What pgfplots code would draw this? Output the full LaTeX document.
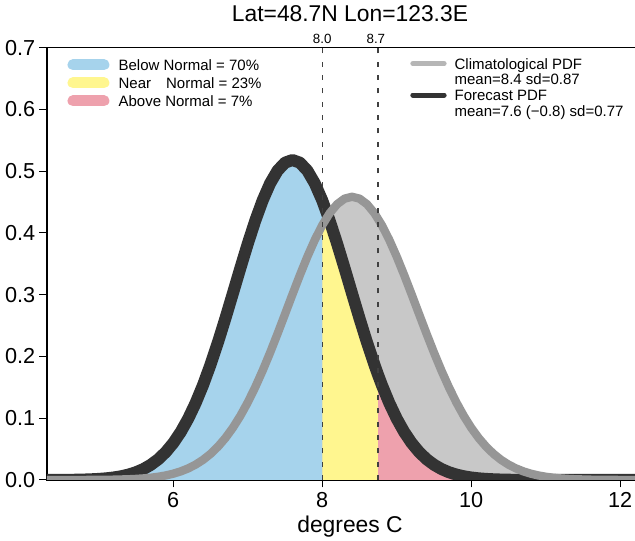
\documentclass[border=0pt]{standalone}
\usepackage{pgfplots}
\pgfplotsset{compat=1.18}
\usepackage{pgfplotstable}
\usepackage{fontspec}
\setmainfont{Liberation Sans}

\definecolor{belowc}{RGB}{166,211,236}
\definecolor{nearc}{RGB}{255,246,143}
\definecolor{abovec}{RGB}{238,161,173}
\definecolor{climfill}{RGB}{200,200,200}
\definecolor{climline}{RGB}{150,150,150}
\definecolor{fcline}{RGB}{51,51,51}

% Forecast PDF (mean 7.6, sd 0.77)
\pgfplotstableread{
x y
4.30 0.00000
4.50 0.00016
4.60 0.00026
4.70 0.00043
4.80 0.00070
4.90 0.00111
5.00 0.00173
5.10 0.00266
5.20 0.00403
5.30 0.00598
5.40 0.00875
5.50 0.01257
5.60 0.01776
5.70 0.02468
5.80 0.03371
5.90 0.04529
6.00 0.05982
6.10 0.07769
6.20 0.09922
6.30 0.12458
6.40 0.15382
6.50 0.18675
6.60 0.22293
6.70 0.26167
6.80 0.30201
6.90 0.34274
7.00 0.38244
7.10 0.41961
7.20 0.45271
7.30 0.48024
7.40 0.50092
7.50 0.51376
7.60 0.51811
7.70 0.51376
7.80 0.50092
7.90 0.48024
8.00 0.45271
8.10 0.41961
8.20 0.38244
8.30 0.34274
8.40 0.30201
8.50 0.26167
8.60 0.22293
8.70 0.18675
8.75 0.16985
8.80 0.15382
8.90 0.12458
9.00 0.09922
9.10 0.07769
9.20 0.05982
9.30 0.04529
9.40 0.03371
9.50 0.02468
9.60 0.01776
9.70 0.01257
9.80 0.00875
9.90 0.00598
10.00 0.00403
10.10 0.00266
10.20 0.00173
10.30 0.00111
10.40 0.00070
10.50 0.00043
10.60 0.00026
10.70 0.00016
10.90 0.00005
12.50 0.00000
}\fcst

% Climatological PDF (mean 8.4, sd 0.87)
\pgfplotstableread{
x y
4.30 0.00000
4.80 0.00009
5.00 0.00022
5.20 0.00053
5.40 0.00120
5.50 0.00177
5.60 0.00258
5.70 0.00371
5.80 0.00527
5.90 0.00738
6.00 0.01021
6.10 0.01392
6.20 0.01874
6.30 0.02490
6.40 0.03265
6.50 0.04224
6.60 0.05393
6.70 0.06796
6.80 0.08452
6.90 0.10373
7.00 0.12563
7.10 0.15016
7.20 0.17712
7.30 0.20618
7.40 0.23687
7.50 0.26854
7.60 0.30046
7.70 0.33175
7.80 0.36150
7.90 0.38875
8.00 0.41256
8.10 0.43209
8.20 0.44660
8.30 0.45554
8.40 0.45856
8.50 0.45554
8.60 0.44660
8.70 0.43209
8.80 0.41256
8.90 0.38875
9.00 0.36150
9.10 0.33175
9.20 0.30046
9.30 0.26854
9.40 0.23687
9.50 0.20618
9.60 0.17712
9.70 0.15016
9.80 0.12563
9.90 0.10373
10.00 0.08452
10.10 0.06796
10.20 0.05393
10.30 0.04224
10.40 0.03265
10.50 0.02490
10.60 0.01874
10.70 0.01392
10.80 0.01021
10.90 0.00738
11.00 0.00527
11.10 0.00371
11.20 0.00258
11.30 0.00177
11.40 0.00120
11.60 0.00053
11.80 0.00022
12.00 0.00009
12.50 0.00000
}\clim

\begin{document}
\begin{tikzpicture}
\begin{axis}[
  scale only axis, width=363.6pt, height=259.4pt,
  xmin=4.305, xmax=12.44, ymin=0, ymax=0.7,
  xtick={6,8,10,12}, ytick={0,0.1,0.2,0.3,0.4,0.5,0.6,0.7},
  yticklabel style={/pgf/number format/fixed, /pgf/number format/fixed zerofill, /pgf/number format/precision=1},
  /pgf/number format/assume math mode=true,
  tick align=outside, xtick pos=left, ytick pos=left,
  major tick length=4.5pt,
  tick style={black, line width=0.6pt},
  axis line style={black, line width=0.8pt},
  ticklabel style={font=\fontsize{13}{15}\selectfont},
  xticklabel style={anchor=base}, xticklabel shift=12.3pt,
  yticklabel style={anchor=east, inner sep=0pt, xshift=-2.4pt},
  title={Lat=48.7N Lon=123.3E},
  title style={font=\fontsize{13.7}{16}\selectfont, at={(0.5,1)}, anchor=base, yshift=9.4pt},
  xlabel={degrees C},
  xlabel style={font=\fontsize{13.7}{16}\selectfont, at={(axis description cs:0.5,0)}, anchor=base, yshift=-31.8pt},
  clip mode=individual,
  legend cell align=left,
  legend style={at={(0.0338,0.9732)}, anchor=north west, draw=none, fill=none,
    inner sep=0pt, outer sep=0pt, column sep=5.5pt, row sep=2.7pt,
    font=\fontsize{9}{10}\selectfont,
    nodes={inner sep=0pt, text height=6.6pt, text depth=1.5pt}},
]
\addplot[fill=climfill, draw=none, forget plot] table {\clim} \closedcycle;
\addplot[fill=belowc, draw=none, forget plot, restrict x to domain=4:8.001] table {\fcst} \closedcycle;
\addplot[fill=nearc, draw=none, forget plot, restrict x to domain=7.999:8.751] table {\fcst} \closedcycle;
\addplot[fill=abovec, draw=none, forget plot, restrict x to domain=8.749:13] table {\fcst} \closedcycle;
\addplot[fcline, line width=7.2pt, line join=round, forget plot] table {\fcst};
\addplot[climline, line width=5pt, line join=round, forget plot] table {\clim};
\addplot[black!75, line width=0.9pt, dash pattern=on 3pt off 5pt, forget plot] coordinates {(8.0,0) (8.0,0.7)};
\addplot[black!75, line width=0.9pt, dash pattern=on 3pt off 5pt, forget plot] coordinates {(8.75,0) (8.75,0.7)};
\node[font=\fontsize{8}{9}\selectfont, anchor=base, inner sep=0pt] at (axis cs:8.0,0.7) [yshift=2.2pt] {8.0};
\node[font=\fontsize{8}{9}\selectfont, anchor=base, inner sep=0pt] at (axis cs:8.72,0.7) [yshift=2.2pt] {8.7};

\addlegendimage{legend image code/.code={\draw[belowc, line width=6.6pt, line cap=round] (0pt,0.8pt) -- (18.6pt,0.8pt);}}
\addlegendentry{Below Normal = 70\%}
\addlegendimage{legend image code/.code={\draw[nearc, line width=6.6pt, line cap=round] (0pt,0.8pt) -- (18.6pt,0.8pt);}}
\addlegendentry{Near\hspace{9pt}Normal = 23\%}
\addlegendimage{legend image code/.code={\draw[abovec, line width=6.6pt, line cap=round] (0pt,0.8pt) -- (18.6pt,0.8pt);}}
\addlegendentry{Above Normal = 7\%}
\end{axis}

\begin{axis}[
  scale only axis, width=363.6pt, height=259.4pt,
  xmin=4.305, xmax=12.44, ymin=0, ymax=0.7,
  hide axis,
  legend cell align=left,
  legend style={at={(0.5995,0.9755)}, anchor=north west, draw=none, fill=none,
    inner sep=0pt, outer sep=0pt, column sep=4.8pt, row sep=1.3pt,
    font=\fontsize{9}{10}\selectfont,
    nodes={inner sep=0pt, text height=6.6pt, text depth=1.5pt}},
]
\addlegendimage{legend image code/.code={\draw[climline!70!white, line width=3pt, line cap=round] (0pt,0.8pt) -- (18.8pt,0.8pt);}}
\addlegendentry{Climatological PDF}
\addlegendimage{empty legend}
\addlegendentry{mean=8.4 sd=0.87}
\addlegendimage{legend image code/.code={\draw[fcline, line width=3pt, line cap=round] (0pt,0.8pt) -- (18.8pt,0.8pt);}}
\addlegendentry{Forecast PDF}
\addlegendimage{empty legend}
\addlegendentry{mean=7.6 (−0.8) sd=0.77}
\end{axis}

\pgfresetboundingbox
\path ([shift={(-28.2pt,-36.6pt)}]current axis.south west) rectangle ([shift={(352.8pt,28.6pt)}]current axis.north west);
\end{tikzpicture}
\end{document}
